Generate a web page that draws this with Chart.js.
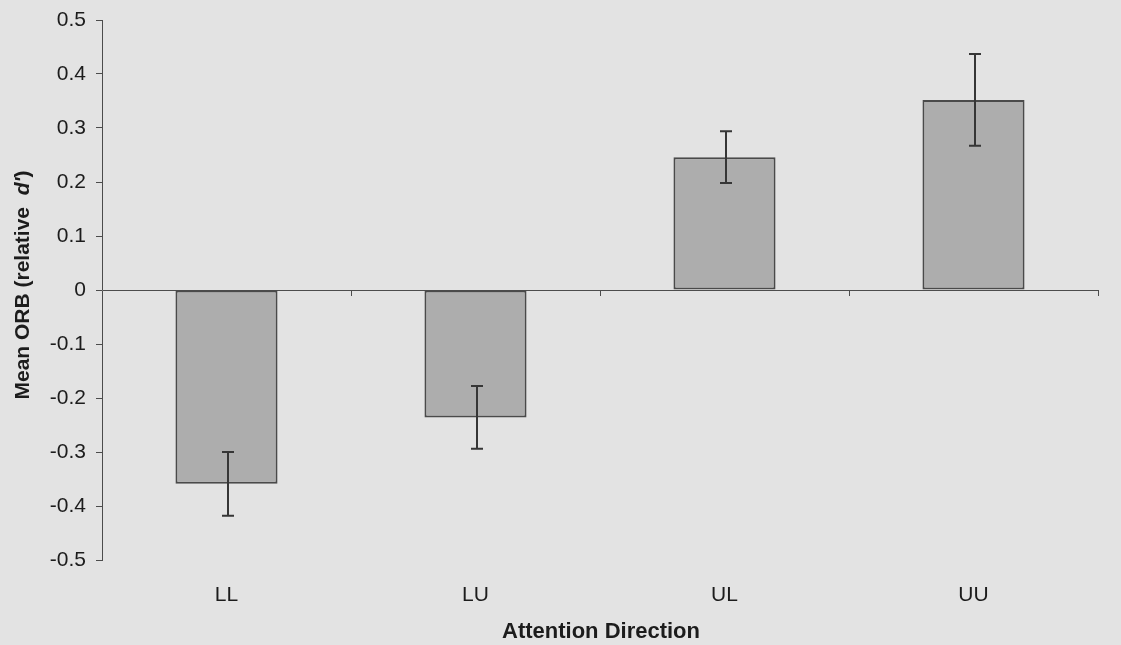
<!DOCTYPE html>
<html>
<head>
<meta charset="utf-8">
<script src="https://cdn.jsdelivr.net/npm/chart.js@4/dist/chart.umd.min.js"></script>
<style>
  html, body { margin: 0; padding: 0; background: #e3e3e3; }
  #c { display: block; }
</style>
</head>
<body>
<canvas id="c" width="1121" height="645"></canvas>
<script>
const categories = ['LL', 'LU', 'UL', 'UU'];
const meanORB = [-0.359, -0.236, 0.246, 0.352];
const stdErrors = [0.059, 0.058, 0.048, 0.085];
const yTickMin = -0.5;
const yTickMax = 0.5;
const yTickStep = 0.1;

const AXIS = '#4c4c4c';
const TEXT = '#1c1c1c';
const FAM = '"Liberation Sans", Arial, sans-serif';

const extras = {
  id: 'extras',
  afterDatasetsDraw(chart) {
    const ctx = chart.ctx;
    const y = chart.scales.y, x = chart.scales.x;
    const area = chart.chartArea;
    const meta = chart.getDatasetMeta(0);
    ctx.save();
    // zero-line category boundary ticks
    const y0 = y.getPixelForValue(0);
    ctx.strokeStyle = AXIS;
    ctx.lineWidth = 1;
    for (let i = 0; i < categories.length; i++) {
      const xb = i < categories.length - 1
        ? (x.getPixelForValue(i) + x.getPixelForValue(i + 1)) / 2
        : area.right;
      ctx.beginPath();
      ctx.moveTo(Math.round(xb) + 0.5, y0);
      ctx.lineTo(Math.round(xb) + 0.5, y0 + 6);
      ctx.stroke();
    }
    // error bars
    ctx.strokeStyle = '#363636';
    ctx.lineWidth = 2;
    meta.data.forEach((bar, i) => {
      const cx = Math.round(bar.x) + 1;
      const yt = y.getPixelForValue(meanORB[i] + stdErrors[i]);
      const yb = y.getPixelForValue(meanORB[i] - stdErrors[i]);
      ctx.beginPath();
      ctx.moveTo(cx, yt); ctx.lineTo(cx, yb);
      ctx.moveTo(cx - 6, yt); ctx.lineTo(cx + 6, yt);
      ctx.moveTo(cx - 6, yb); ctx.lineTo(cx + 6, yb);
      ctx.stroke();
    });
    // axis titles
    ctx.fillStyle = TEXT;
    ctx.textBaseline = 'middle';
    ctx.textAlign = 'center';
    ctx.font = 'bold 22px ' + FAM;
    ctx.fillText('Attention Direction', (area.left + area.right) / 2 + 1, 632);
    // y title with italic d'
    ctx.translate(23, (area.top + area.bottom) / 2 - 5);
    ctx.rotate(-Math.PI / 2);
    const p1 = 'Mean ORB (relative  ';
    const p2 = "d'";
    const p3 = ')';
    const fB = 'bold 21px ' + FAM;
    const fI = 'italic bold 21px ' + FAM;
    ctx.font = fB; const w1 = ctx.measureText(p1).width; const w3 = ctx.measureText(p3).width;
    ctx.font = fI; const w2 = ctx.measureText(p2).width;
    let sx = -(w1 + w2 + w3) / 2;
    ctx.textAlign = 'left';
    ctx.font = fB; ctx.fillText(p1, sx, 0); sx += w1;
    ctx.font = fI; ctx.fillText(p2, sx, 0); sx += w2;
    ctx.font = fB; ctx.fillText(p3, sx, 0);
    ctx.restore();
  }
};

new Chart(document.getElementById('c'), {
  type: 'bar',
  data: {
    labels: categories,
    datasets: [{
      data: meanORB,
      backgroundColor: '#adadad',
      borderColor: '#4a4a4a',
      borderWidth: 2,
      borderSkipped: false,
      barPercentage: 0.41,
      categoryPercentage: 1.0
    }]
  },
  options: {
    responsive: false,
    animation: false,
    devicePixelRatio: 1,
    layout: { padding: { left: 0, right: 23, top: 20, bottom: 0 } },
    plugins: { legend: { display: false }, tooltip: { enabled: false } },
    scales: {
      x: {
        grid: { display: false },
        border: { display: false },
        ticks: {
          color: TEXT,
          padding: 15,
          font: { size: 21, family: FAM }
        },
        afterFit(s) { s.height = 85; }
      },
      y: {
        min: yTickMin,
        max: yTickMax,
        border: { display: true, color: AXIS, width: 1 },
        grid: {
          color: (c) => (c.tick && Math.abs(c.tick.value) < 1e-9) ? AXIS : 'rgba(0,0,0,0)',
          tickColor: AXIS,
          tickLength: 6,
          drawOnChartArea: true
        },
        ticks: {
          stepSize: yTickStep,
          color: TEXT,
          padding: 10,
          font: { size: 21, family: FAM },
          callback: (v) => Math.abs(v) < 1e-9 ? '0' : Number(v).toFixed(1)
        },
        afterFit(s) { s.width = 102; s.paddingTop = 0; s.paddingBottom = 0; }
      }
    }
  },
  plugins: [extras]
});
</script>
</body>
</html>
